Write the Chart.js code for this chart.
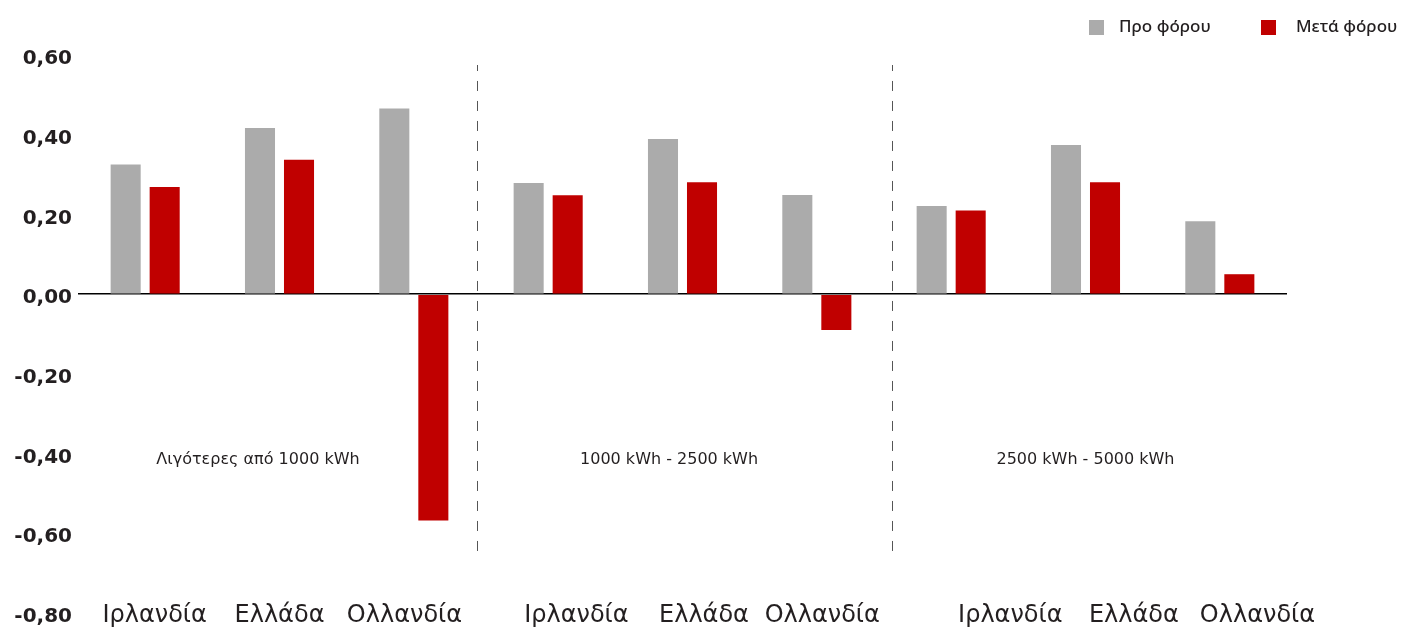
<!DOCTYPE html>
<html>
<head>
<meta charset="utf-8">
<script src="https://cdn.jsdelivr.net/npm/chart.js@4.4.1/dist/chart.umd.min.js"></script>
<style>
  html, body { margin: 0; padding: 0; background: #fff; }
  #wrap { width: 1412px; height: 627px; }
</style>
</head>
<body>
<div id="wrap"><canvas id="chart"></canvas></div>
<script>
// data
const countries = ['Ιρλανδία','Ελλάδα','Ολλανδία','Ιρλανδία','Ελλάδα','Ολλανδία','Ιρλανδία','Ελλάδα','Ολλανδία'];
const groups = ['Λιγότερες από 1000 kWh','1000 kWh - 2500 kWh','2500 kWh - 5000 kWh'];
const seriesNames = ['Προ φόρου','Μετά φόρου'];
const beforeTax = [0.325, 0.417, 0.466, 0.279, 0.389, 0.249, 0.221, 0.374, 0.183];
const afterTax  = [0.269, 0.337, -0.568, 0.248, 0.281, -0.090, 0.210, 0.281, 0.050];
const yTicks = [-0.8, -0.6, -0.4, -0.2, 0, 0.2, 0.4, 0.6];

// layout (in category units along x)
const labelPos = [0.07, 1.0, 1.93, 3.21, 4.16, 5.04, 6.44, 7.36, 8.28];
const groupPos = [0.84, 3.9, 7.0];
const sepPos = [2.47, 5.56];

const GREY = '#ababab', RED = '#c00000', TEXT = '#231f20';

const extras = {
  id: 'extras',
  beforeDatasetsDraw(chart) {
    const {ctx, scales: {x, y}} = chart;
    ctx.save();
    ctx.strokeStyle = '#555';
    ctx.lineWidth = 1;
    ctx.setLineDash([10, 10]);
    ctx.lineDashOffset = 4;
    sepPos.forEach(p => {
      const px = Math.round(x.getPixelForValue(p)) + 0.5;
      ctx.beginPath();
      ctx.moveTo(px, y.getPixelForValue(0.575));
      ctx.lineTo(px, y.getPixelForValue(-0.645));
      ctx.stroke();
    });
    ctx.restore();
  },
  afterDraw(chart) {
    const {ctx, scales: {x, y}} = chart;
    ctx.save();
    // group captions
    ctx.fillStyle = TEXT;
    ctx.font = '16px "DejaVu Sans"';
    ctx.textAlign = 'center';
    ctx.textBaseline = 'middle';
    groups.forEach((g, i) => ctx.fillText(g, x.getPixelForValue(groupPos[i]), y.getPixelForValue(-0.415)));
    // legend, top right
    const boxes = [{x: 1089, c: GREY}, {x: 1261, c: RED}];
    const textX = [1119, 1296];
    ctx.font = '500 17px "Noto Sans"';
    ctx.textAlign = 'left';
    seriesNames.forEach((s, i) => {
      ctx.fillStyle = boxes[i].c;
      ctx.fillRect(boxes[i].x, 20, 15, 15);
      ctx.fillStyle = TEXT;
      ctx.fillText(s, textX[i], 27);
    });
    ctx.restore();
  }
};

new Chart(document.getElementById('chart'), {
  type: 'bar',
  data: {
    labels: countries,
    datasets: [
      { label: seriesNames[0], data: beforeTax, backgroundColor: GREY, categoryPercentage: 0.581, barPercentage: 0.77 },
      { label: seriesNames[1], data: afterTax, backgroundColor: RED, categoryPercentage: 0.581, barPercentage: 0.77 }
    ]
  },
  options: {
    responsive: true,
    maintainAspectRatio: false,
    animation: false,
    layout: { padding: { top: 55, bottom: 14, left: 0, right: 0 } },
    plugins: { legend: { display: false }, tooltip: { enabled: false } },
    scales: {
      x: { type: 'category', display: false },
      x2: {
        type: 'linear', min: -0.5, max: 8.5, offset: false,
        position: { y: -0.745 },
        grid: { display: false, offset: false }, border: { display: false },
        afterBuildTicks: s => { s.ticks = labelPos.map(v => ({ value: v })); },
        ticks: {
          autoSkip: false, maxRotation: 0, padding: 2, color: TEXT,
          font: { family: 'DejaVu Sans', size: 24 },
          callback: (v, i) => countries[i]
        }
      },
      y: {
        min: -0.8, max: 0.6,
        afterBuildTicks: s => { s.ticks = yTicks.map(v => ({ value: v })); },
        afterFit: s => { s.width = 78; },
        border: { display: false },
        grid: {
          drawTicks: false,
          lineWidth: 1.5,
          color: c => (c.tick && Math.abs(c.tick.value) < 1e-9) ? '#000' : 'rgba(0,0,0,0)'
        },
        ticks: {
          padding: 6, color: TEXT, labelOffset: 4,
          font: { family: 'DejaVu Sans', size: 20, weight: 'bold', lineHeight: 0.8 },
          callback: v => v.toFixed(2).replace('.', ',')
        }
      },
      yR: {
        type: 'linear', position: 'right',
        grid: { display: false }, border: { display: false },
        ticks: { display: false },
        afterFit: s => { s.width = 125; }
      }
    }
  },
  plugins: [extras]
});
</script>
</body>
</html>
